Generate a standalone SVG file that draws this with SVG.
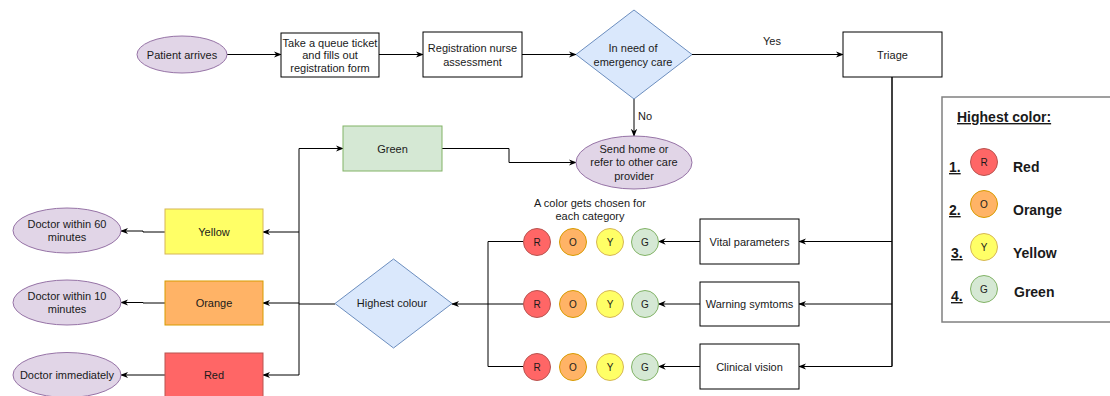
<svg xmlns="http://www.w3.org/2000/svg" width="1110" height="396" viewBox="0 0 1110 396">
  <style>
    text { font-family: "Liberation Sans", Arial, sans-serif; font-size: 11px; fill: #1a1a1a; text-anchor: middle; }
    .box { fill: #ffffff; stroke: #000000; stroke-width: 1; }
    .term { fill: #e1d5e7; stroke: #9673a6; stroke-width: 1; }
    .dec { fill: #dae8fc; stroke: #6c8ebf; stroke-width: 1; }
    .green { fill: #d5e8d4; stroke: #82b366; stroke-width: 1; }
    .yellow { fill: #ffff66; stroke: #d6b656; stroke-width: 1; }
    .orange { fill: #ffb366; stroke: #d79b00; stroke-width: 1; }
    .red { fill: #ff6666; stroke: #b85450; stroke-width: 1; }
    .edge { fill: none; stroke: #000000; stroke-width: 1; }
    .edge-a { fill: none; stroke: #000000; stroke-width: 1; marker-end: url(#arrow); }
    .dot { font-size: 10px; }
    .leg { font-size: 14px; font-weight: bold; text-anchor: start; }
    .legu { font-size: 14px; font-weight: bold; text-anchor: start; text-decoration: underline; }
  </style>
  <defs>
    <marker id="arrow" viewBox="0 0 10 10" refX="9" refY="5" markerWidth="8" markerHeight="8" markerUnits="userSpaceOnUse" orient="auto">
      <path d="M0,1 L10,5 L0,9 L3,5 z" fill="#000000"/>
    </marker>
  </defs>

  <!-- connectors -->
  <g id="connectors">
    <line class="edge-a" x1="227" y1="54.5" x2="281" y2="54.5"/>
    <line class="edge-a" x1="379" y1="54.5" x2="423" y2="54.5"/>
    <line class="edge-a" x1="522" y1="54.5" x2="576" y2="54.5"/>
    <line class="edge-a" x1="692" y1="54.5" x2="843" y2="54.5"/>
    <text x="772" y="45">Yes</text>
    <line class="edge-a" x1="634" y1="99" x2="634" y2="136"/>
    <text x="645" y="120">No</text>
    <polyline class="edge-a" points="442,148.5 509,148.5 509,162.5 576,162.5"/>

    <!-- triage to the three categories -->
    <polyline class="edge" points="892,77 892,366.5" style="stroke-width:1.5"/>
    <line class="edge-a" x1="892" y1="241.5" x2="799" y2="241.5"/>
    <line class="edge-a" x1="892" y1="304" x2="799" y2="304"/>
    <line class="edge-a" x1="892" y1="366.5" x2="799" y2="366.5"/>

    <!-- categories to colour chips -->
    <line class="edge-a" x1="700" y1="241.5" x2="658.5" y2="241.5"/>
    <line class="edge-a" x1="700" y1="304" x2="658.5" y2="304"/>
    <line class="edge-a" x1="700" y1="366.5" x2="658.5" y2="366.5"/>

    <!-- chips to highest colour -->
    <polyline class="edge" points="523.5,241.5 488,241.5 488,366.5 523.5,366.5"/>
    <line class="edge-a" x1="523.5" y1="304" x2="452" y2="304"/>

    <!-- highest colour fan-out -->
    <line class="edge" x1="335" y1="304" x2="299" y2="304"/>
    <polyline class="edge" points="299,148.5 299,375"/>
    <line class="edge-a" x1="299" y1="148.5" x2="343" y2="148.5"/>
    <line class="edge-a" x1="299" y1="232" x2="263" y2="232"/>
    <line class="edge-a" x1="299" y1="303" x2="263" y2="303"/>
    <line class="edge-a" x1="299" y1="375" x2="263" y2="375"/>

    <!-- colour boxes to outcomes -->
    <polyline class="edge-a" points="165,232 143,232 143,231 121,231"/>
    <polyline class="edge-a" points="165,303 143,303 143,302.5 121,302.5"/>
    <line class="edge-a" x1="165" y1="375" x2="121" y2="375"/>
  </g>

  <g id="patient-arrives">
    <ellipse class="term" cx="182" cy="54.5" rx="45" ry="18.5"/>
    <text x="182" y="58.5">Patient arrives</text>
  </g>

  <g id="queue-ticket">
    <rect class="box" x="281" y="33" width="98" height="44"/>
    <text x="330" y="47">Take a queue ticket</text>
    <text x="330" y="59">and fills out</text>
    <text x="330" y="72">registration form</text>
  </g>

  <g id="registration">
    <rect class="box" x="423" y="32" width="99" height="45"/>
    <text x="472.5" y="52">Registration nurse</text>
    <text x="472.5" y="65.5">assessment</text>
  </g>

  <g id="emergency">
    <polygon class="dec" points="634,10 692,54.5 634,99 576,54.5"/>
    <text x="633" y="52">In need of</text>
    <text x="633" y="65.5">emergency care</text>
  </g>

  <g id="triage">
    <rect class="box" x="843" y="32" width="99" height="45"/>
    <text x="892.5" y="58.5">Triage</text>
  </g>

  <g id="send-home">
    <ellipse class="term" cx="634" cy="162.5" rx="58" ry="26.5"/>
    <text x="634" y="153">Send home or</text>
    <text x="634" y="166">refer to other care</text>
    <text x="634" y="179.5">provider</text>
  </g>

  <g id="green">
    <rect class="green" x="343" y="126" width="99" height="45"/>
    <text x="392.5" y="152.5">Green</text>
  </g>

  <g id="category-note">
    <text x="590" y="207">A color gets chosen for</text>
    <text x="590" y="220">each category</text>
  </g>

  <g id="vital-parameters">
    <rect class="box" x="700" y="219" width="99" height="45"/>
    <text x="749.5" y="245.5">Vital parameters</text>
  </g>
  <g id="warning-symptoms">
    <rect class="box" x="700" y="282" width="99" height="44"/>
    <text x="749.5" y="308">Warning symtoms</text>
  </g>
  <g id="clinical-vision">
    <rect class="box" x="700" y="344" width="99" height="45"/>
    <text x="749.5" y="370.5">Clinical vision</text>
  </g>

  <!-- colour chips per category -->
  <g id="chips-vital">
    <circle class="red" cx="537" cy="242" r="13.5"/><text class="dot" x="537" y="245.5">R</text>
    <circle class="orange" cx="573" cy="242" r="13.5"/><text class="dot" x="573" y="245.5">O</text>
    <circle class="yellow" cx="610" cy="242" r="13.5"/><text class="dot" x="610" y="245.5">Y</text>
    <circle class="green" cx="645" cy="242" r="13.5"/><text class="dot" x="645" y="245.5">G</text>
  </g>
  <g id="chips-warning">
    <circle class="red" cx="537" cy="304" r="13.5"/><text class="dot" x="537" y="307.5">R</text>
    <circle class="orange" cx="573" cy="304" r="13.5"/><text class="dot" x="573" y="307.5">O</text>
    <circle class="yellow" cx="610" cy="304" r="13.5"/><text class="dot" x="610" y="307.5">Y</text>
    <circle class="green" cx="645" cy="304" r="13.5"/><text class="dot" x="645" y="307.5">G</text>
  </g>
  <g id="chips-clinical">
    <circle class="red" cx="537" cy="367" r="13.5"/><text class="dot" x="537" y="370.5">R</text>
    <circle class="orange" cx="573" cy="367" r="13.5"/><text class="dot" x="573" y="370.5">O</text>
    <circle class="yellow" cx="610" cy="367" r="13.5"/><text class="dot" x="610" y="370.5">Y</text>
    <circle class="green" cx="645" cy="367" r="13.5"/><text class="dot" x="645" y="370.5">G</text>
  </g>

  <g id="highest-colour">
    <polygon class="dec" points="393.5,259 452,303.5 393.5,348 335,303.5"/>
    <text x="392" y="307">Highest colour</text>
  </g>

  <g id="yellow">
    <rect class="yellow" x="165" y="209" width="98" height="45"/>
    <text x="214" y="235.5">Yellow</text>
  </g>
  <g id="orange">
    <rect class="orange" x="165" y="281" width="98" height="44"/>
    <text x="214" y="307">Orange</text>
  </g>
  <g id="red">
    <rect class="red" x="165" y="353" width="98" height="45"/>
    <text x="214" y="379">Red</text>
  </g>

  <g id="doctor-60">
    <ellipse class="term" cx="67" cy="230.5" rx="54" ry="22.5"/>
    <text x="67" y="228">Doctor within 60</text>
    <text x="67" y="241">minutes</text>
  </g>
  <g id="doctor-10">
    <ellipse class="term" cx="67" cy="302.5" rx="54" ry="22.5"/>
    <text x="67" y="299.5">Doctor within 10</text>
    <text x="67" y="313">minutes</text>
  </g>
  <g id="doctor-now">
    <ellipse class="term" cx="67" cy="375" rx="54" ry="22.5"/>
    <text x="67" y="379">Doctor immediately</text>
  </g>

  <!-- priority legend -->
  <g id="legend">
    <rect x="942" y="97" width="175" height="225" fill="#ffffff" stroke="#808080" stroke-width="1.5"/>
    <text class="legu" x="957" y="122">Highest color:</text>
    <text class="legu" x="949" y="172">1.</text>
    <circle class="red" cx="984" cy="162" r="13.5"/><text class="dot" x="984" y="165.5">R</text>
    <text class="leg" x="1013" y="172">Red</text>
    <text class="legu" x="949" y="215">2.</text>
    <circle class="orange" cx="984" cy="204" r="13.5"/><text class="dot" x="984" y="207.5">O</text>
    <text class="leg" x="1013" y="215">Orange</text>
    <text class="legu" x="951" y="258">3.</text>
    <circle class="yellow" cx="984" cy="247" r="13.5"/><text class="dot" x="984" y="250.5">Y</text>
    <text class="leg" x="1013" y="258">Yellow</text>
    <text class="legu" x="951" y="301">4.</text>
    <circle class="green" cx="984" cy="289" r="13.5"/><text class="dot" x="984" y="292.5">G</text>
    <text class="leg" x="1014" y="297">Green</text>
  </g>
</svg>
